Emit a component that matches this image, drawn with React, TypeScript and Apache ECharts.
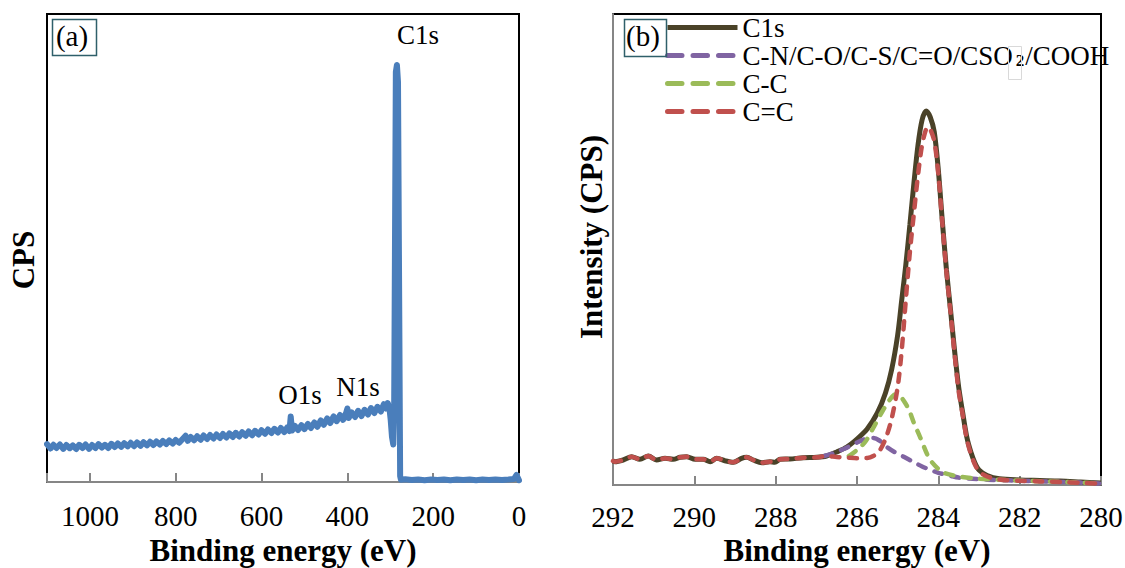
import React, { useEffect, useRef } from 'react';
import * as echarts from 'echarts';

const SERIF = 'Liberation Serif';

// Panel (a): survey spectrum, [binding energy (eV), CPS (arb.)]
const surveyTicks = [1000, 800, 600, 400, 200, 0];
const surveyPeakLabels = ['C1s', 'O1s', 'N1s'];
const survey: [number, number][] = [
  [1100, 378], [1092, 335], [1085, 372], [1078, 340], [1070, 375], [1062, 332], [1055, 370], [1047, 338],
  [1040, 366], [1032, 330], [1025, 372], [1017, 340], [1010, 375], [1002, 332], [995, 370], [987, 340],
  [980, 378], [972, 345], [965, 372], [957, 340], [950, 382], [942, 350], [935, 385], [927, 352],
  [920, 388], [912, 356], [905, 392], [897, 358], [890, 395], [882, 362], [875, 398], [867, 366],
  [860, 402], [852, 370], [845, 405], [837, 375], [830, 410], [822, 380], [815, 415], [807, 385],
  [800, 420], [792, 392], [785, 425], [777, 462], [772, 412], [765, 450], [757, 418], [750, 458],
  [742, 422], [735, 465], [727, 430], [720, 470], [712, 435], [705, 475], [697, 440], [690, 480],
  [682, 445], [675, 486], [667, 450], [660, 492], [652, 455], [645, 498], [637, 462], [630, 505],
  [622, 468], [615, 512], [607, 475], [600, 518], [592, 482], [585, 525], [577, 490], [570, 532],
  [562, 495], [555, 540], [547, 500], [540, 545], [535, 510], [532, 655], [529, 515], [522, 560],
  [515, 520], [507, 568], [500, 528], [492, 580], [485, 540], [477, 595], [470, 552], [462, 615],
  [455, 572], [447, 635], [440, 590], [432, 655], [425, 608], [417, 670], [410, 622], [403, 690],
  [400, 735], [397, 640], [390, 695], [382, 650], [375, 712], [367, 660], [360, 722], [352, 675],
  [345, 740], [337, 690], [330, 752], [322, 705], [315, 778], [310, 735], [306, 790], [302, 738],
  [299, 620], [296, 450], [293, 375], [291, 700], [287, 4100], [284.5, 4170], [282, 4000], [277, 60],
  [275, 22], [265, 28], [250, 20], [235, 26], [220, 18], [205, 24], [190, 20], [175, 26],
  [160, 18], [145, 24], [130, 20], [115, 25], [100, 18], [85, 24], [70, 20], [55, 26],
  [40, 20], [25, 24], [12, 30], [6, 70], [3, 45], [0, 18],
];

// Panel (b): C1s high resolution
const hiResTicks = [292, 290, 288, 286, 284, 282, 280];
const seriesNames = ['C1s', 'C-N/C-O/C-S/C=O/CSO2/COOH', 'C-C', 'C=C'];
const hiResBaseline: [number, number][] = [
  [292.0, 240], [291.95, 233], [291.75, 250], [291.54, 283], [291.34, 257], [291.13, 290], [290.93, 250],
  [290.72, 267], [290.52, 257], [290.35, 277], [290.19, 283], [289.98, 257], [289.78, 257], [289.61, 233],
  [289.45, 267], [289.25, 243], [289.04, 227], [288.84, 267], [288.71, 277], [288.55, 250], [288.34, 223],
  [288.14, 233], [288.02, 227], [287.89, 257], [287.65, 260], [287.32, 273], [286.99, 277], [286.75, 290],
];
const c1sEnvelope: [number, number][] = [
  [286.5, 330], [286.25, 380], [286.0, 460], [285.75, 560], [285.5, 720], [285.3, 920], [285.15, 1150],
  [285.0, 1500], [284.9, 1850], [284.8, 2200], [284.7, 2600], [284.6, 3020], [284.5, 3400], [284.4, 3650],
  [284.3, 3740], [284.2, 3680], [284.1, 3530], [284.0, 3150], [283.9, 2630], [283.8, 2150], [283.7, 1750],
  [283.6, 1340], [283.5, 980], [283.4, 720], [283.3, 480], [283.2, 330], [283.1, 220], [283.0, 150],
  [282.8, 95], [282.5, 62], [282.0, 50], [281.5, 45], [281.0, 40], [280.5, 30], [280.0, 20],
];
const cnCoPeak: [number, number][] = [
  [286.8, 290], [286.6, 315], [286.3, 365], [286.0, 425], [285.8, 458], [285.6, 470], [285.45, 445],
  [285.3, 390], [285.1, 335], [284.85, 282], [284.6, 228], [284.4, 185], [284.2, 152], [284.0, 122],
  [283.7, 92], [283.5, 74], [283.0, 58], [282.6, 50], [282.0, 43], [281.5, 37], [281.0, 31],
  [280.5, 24], [280.0, 14],
];
const ccPeak: [number, number][] = [
  [286.2, 290], [286.0, 350], [285.8, 430], [285.6, 570], [285.4, 720], [285.2, 850], [285.05, 905],
  [284.95, 895], [284.8, 810], [284.7, 730], [284.6, 620], [284.45, 480], [284.3, 330], [284.2, 250],
  [284.0, 160], [283.85, 120], [283.5, 85], [283.0, 62], [282.5, 52], [282.0, 44], [281.5, 38],
  [281.0, 32], [280.5, 24], [280.0, 14],
];
const cdcPeak: [number, number][] = [
  [286.5, 280], [286.25, 274], [286.0, 268], [285.75, 270], [285.6, 290], [285.45, 340], [285.3, 460],
  [285.15, 660], [285.0, 980], [284.9, 1350], [284.8, 1850], [284.7, 2330], [284.6, 2720], [284.5, 3100],
  [284.4, 3400], [284.3, 3560], [284.25, 3580], [284.2, 3560], [284.1, 3440], [284.0, 3110], [283.9, 2610],
  [283.8, 2130], [283.7, 1730], [283.6, 1310], [283.5, 940], [283.4, 700], [283.3, 460], [283.2, 310],
  [283.1, 205], [283.0, 135], [282.8, 85], [282.5, 55], [282.0, 42], [281.5, 36], [281.0, 30],
  [280.5, 22], [280.0, 12],
];

const colors = {
  survey: '#4a7ebb',
  c1s: '#4a4228',
  cn: '#8064a2',
  cc: '#9bbb59',
  cdc: '#c0504d',
};

export default function App() {
  const ref = useRef<HTMLDivElement>(null);
  useEffect(() => {
    if (!ref.current) return;
    const chart = echarts.init(ref.current, undefined, { renderer: 'svg' });
    const gray = '#868686';
    const dash = [8, 9.5];
    const legendDash = [14.5, 11];
    const xAxisCommon = (min: number, max: number, interval: number, ticks: number[], margin: number) => ({
      type: 'value',
      min,
      max,
      interval,
      inverse: true,
      axisLine: { show: true, lineStyle: { color: gray, width: 2 } },
      axisTick: { show: true, inside: true, length: 9, lineStyle: { color: gray, width: 2 } },
      axisLabel: {
        color: '#000',
        fontFamily: SERIF,
        fontWeight: 'normal',
        fontSize: 29,
        margin,
        formatter: (v: number) => (ticks.includes(v) ? String(v) : ''),
      },
      splitLine: { show: false },
      name: 'Binding energy (eV)',
      nameLocation: 'middle',
      nameMoveOverlap: false,
      nameTextStyle: { color: '#000', fontFamily: SERIF, fontSize: 31, fontWeight: 'bold' },
    });
    const hiddenSymbol = { opacity: 0, borderWidth: 0 };
    chart.setOption({
      animation: false,
      backgroundColor: '#fff',
      grid: [
        { left: 47, top: 14, width: 472, height: 468, show: true, borderColor: '#000', borderWidth: 2, outerBoundsMode: 'none', containLabel: false },
        { left: 613, top: 14, width: 488, height: 471, show: true, borderColor: '#000', borderWidth: 2, outerBoundsMode: 'none', containLabel: false },
      ],
      xAxis: [
        { ...xAxisCommon(0, 1100, 200, surveyTicks, 19.5), gridIndex: 0, nameGap: 53 },
        { ...xAxisCommon(280, 292, 2, hiResTicks, 17.5), gridIndex: 1, nameGap: 50 },
      ],
      yAxis: [
        {
          type: 'value', gridIndex: 0, min: 0, max: 4680,
          axisLine: { show: true, lineStyle: { color: '#000', width: 2 } },
          axisTick: { show: false }, axisLabel: { show: false }, splitLine: { show: false },
        },
        {
          type: 'value', gridIndex: 1, min: 0, max: 4710,
          axisLine: { show: true, lineStyle: { color: gray, width: 2 } },
          axisTick: { show: false }, axisLabel: { show: false }, splitLine: { show: false },
        },
      ],
      legend: {
        orient: 'vertical',
        left: 665,
        top: 14,
        itemWidth: 70,
        itemHeight: 14,
        itemGap: 1,
        padding: 0,
        textStyle: {
          color: '#000',
          fontFamily: SERIF,
          fontSize: 27,
          lineHeight: 26,
          rich: {
            sub: {
              fontFamily: SERIF,
              fontSize: 17,
              fontWeight: 'bold',
              lineHeight: 17,
              verticalAlign: 'bottom',
              padding: [0, 1, 0, 3],
            },
          },
        },
        formatter: (name: string) => (name === seriesNames[1] ? 'C-N/C-O/C-S/C=O/CSO{sub|2}/COOH' : name),
        data: [
          { name: seriesNames[0], itemStyle: hiddenSymbol, lineStyle: { width: 5 } },
          { name: seriesNames[1], itemStyle: hiddenSymbol, lineStyle: { type: legendDash, width: 5, cap: 'round' } },
          { name: seriesNames[2], itemStyle: hiddenSymbol, lineStyle: { type: legendDash, width: 5, cap: 'round' } },
          { name: seriesNames[3], itemStyle: hiddenSymbol, lineStyle: { type: legendDash, width: 5, cap: 'round' } },
        ],
      },
      series: [
        {
          name: 'Survey',
          type: 'line',
          xAxisIndex: 0,
          yAxisIndex: 0,
          data: survey,
          showSymbol: false,
          symbol: 'none',
          lineStyle: { color: colors.survey, width: 6, join: 'round', cap: 'round' },
          z: 3,
        },
        {
          name: seriesNames[0],
          type: 'line',
          xAxisIndex: 1,
          yAxisIndex: 1,
          data: [...hiResBaseline, ...c1sEnvelope],
          symbol: 'none',
          smooth: 0.3,
          color: colors.c1s,
          lineStyle: { color: colors.c1s, width: 5 },
          z: 2,
        },
        {
          name: seriesNames[1],
          type: 'line',
          xAxisIndex: 1,
          yAxisIndex: 1,
          data: cnCoPeak,
          symbol: 'none',
          smooth: 0.3,
          color: colors.cn,
          lineStyle: { color: colors.cn, width: 4.5, type: dash, cap: 'round' },
          z: 3,
        },
        {
          name: seriesNames[2],
          type: 'line',
          xAxisIndex: 1,
          yAxisIndex: 1,
          data: ccPeak,
          symbol: 'none',
          smooth: 0.3,
          color: colors.cc,
          lineStyle: { color: colors.cc, width: 4.5, type: dash, cap: 'round' },
          z: 4,
        },
        {
          name: seriesNames[3],
          type: 'line',
          xAxisIndex: 1,
          yAxisIndex: 1,
          data: [...hiResBaseline, ...cdcPeak],
          symbol: 'none',
          smooth: 0.3,
          color: colors.cdc,
          lineStyle: { color: colors.cdc, width: 4.5, type: dash, cap: 'round' },
          z: 5,
        },
      ],
      graphic: [
        {
          type: 'rect', left: 50, top: 17, z: 10,
          shape: { width: 44, height: 36 },
          style: { fill: 'none', stroke: '#2f5f6a', lineWidth: 1.5 },
        },
        {
          type: 'text', x: 72, y: 36, z: 11,
          style: { text: '(a)', fontFamily: SERIF, fontSize: 29, fill: '#000', textAlign: 'center', textVerticalAlign: 'middle' },
        },
        {
          type: 'rect', left: 622, top: 17, z: 10,
          shape: { width: 42, height: 37 },
          style: { fill: 'none', stroke: '#2f5f6a', lineWidth: 1.5 },
        },
        {
          type: 'text', x: 643, y: 36, z: 11,
          style: { text: '(b)', fontFamily: SERIF, fontSize: 29, fill: '#000', textAlign: 'center', textVerticalAlign: 'middle' },
        },
        {
          type: 'rect', left: 1006, top: 44, z: 10,
          shape: { width: 13, height: 33 },
          style: { fill: 'none', stroke: '#d9d9d9', lineWidth: 1 },
        },
        {
          type: 'text', x: 418, y: 35, z: 11,
          style: { text: surveyPeakLabels[0], fontFamily: SERIF, fontSize: 27, fill: '#000', textAlign: 'center', textVerticalAlign: 'middle' },
        },
        {
          type: 'text', x: 300, y: 395, z: 11,
          style: { text: surveyPeakLabels[1], fontFamily: SERIF, fontSize: 27, fill: '#000', textAlign: 'center', textVerticalAlign: 'middle' },
        },
        {
          type: 'text', x: 358, y: 387, z: 11,
          style: { text: surveyPeakLabels[2], fontFamily: SERIF, fontSize: 27, fill: '#000', textAlign: 'center', textVerticalAlign: 'middle' },
        },
        {
          type: 'text', x: 23, y: 260, rotation: Math.PI / 2, z: 11,
          style: { text: 'CPS', fontFamily: SERIF, fontSize: 31, fontWeight: 'bold', fill: '#000', textAlign: 'center', textVerticalAlign: 'middle' },
        },
        {
          type: 'text', x: 591, y: 237, rotation: Math.PI / 2, z: 11,
          style: { text: 'Intensity (CPS)', fontFamily: SERIF, fontSize: 31, fontWeight: 'bold', fill: '#000', textAlign: 'center', textVerticalAlign: 'middle' },
        },
      ],
    });
    return () => chart.dispose();
  }, []);
  return (
    <div
      ref={ref}
      style={{ position: 'fixed', left: 0, top: 0, width: 1125, height: 568, background: '#fff' }}
    />
  );
}
